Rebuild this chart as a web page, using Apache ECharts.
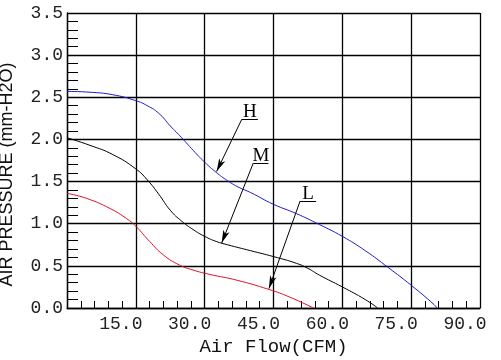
<!DOCTYPE html>
<html>
<head>
<meta charset="utf-8">
<script src="https://cdn.jsdelivr.net/npm/echarts@6/dist/echarts.min.js"></script>
<style>html,body{margin:0;padding:0;background:#fff;}#chart{width:501px;height:360px;}</style>
</head>
<body>
<div id="chart"></div>
<script>
// Air flow (CFM) and pressure (mm-H2O) readings for the three speeds
const flowH = [0, 5, 10, 15, 17.5, 20, 22.5, 25, 27.5, 30, 32.5, 35, 37.5, 40, 45, 50, 55, 60, 65, 70, 75, 80, 80.6];
const pressH = [2.57, 2.56, 2.53, 2.46, 2.40, 2.31, 2.16, 2.02, 1.87, 1.73, 1.61, 1.51, 1.43, 1.37, 1.23, 1.12, 0.99, 0.85, 0.68, 0.48, 0.27, 0.04, 0];

const flowM = [0, 5, 10, 15, 17.5, 20, 22.5, 25, 27.5, 30, 32.5, 35, 40, 45, 50, 52.5, 55, 60, 65, 67.7];
const pressM = [2.02, 1.93, 1.82, 1.65, 1.52, 1.35, 1.16, 1.03, 0.93, 0.85, 0.79, 0.75, 0.68, 0.61, 0.53, 0.47, 0.39, 0.25, 0.10, 0];

const flowL = [0, 4.3, 9.4, 13, 15, 18, 21, 24.5, 27.5, 31, 37, 44, 48.5, 53.7];
const pressL = [1.36, 1.30, 1.18, 1.06, 0.97, 0.79, 0.63, 0.51, 0.45, 0.40, 0.33, 0.22, 0.13, 0];

const seriesNames = ['H', 'M', 'L'];
const xTickValues = [15, 30, 45, 60, 75, 90];
const xTickLabels = ['15.0', '30.0', '45.0', '60.0', '75.0', '90.0'];
const yTickValues = [0, 0.5, 1, 1.5, 2, 2.5, 3, 3.5];
const yTickLabels = ['0.0', '0.5', '1.0', '1.5', '2.0', '2.5', '3.0', '3.5'];

// annotation anchors (data coords): label underline start/end and arrow tip
const annH = { from: [38.1, 2.24], to: [41.6, 2.24], tip: [32.6, 1.62] };
const annM = { from: [40.6, 1.72], to: [43.9, 1.72], tip: [33.7, 0.77] };
const annL = { from: [50.8, 1.27], to: [54.3, 1.27], tip: [44.0, 0.23] };

function zip(xs, ys) { return xs.map((x, i) => [x, ys[i]]); }
function lookup(vals, labels, v) {
  for (let i = 0; i < vals.length; i++) if (Math.abs(vals[i] - v) < 1e-6) return labels[i];
  return '';
}
function annotation(name, a) {
  return {
    markLine: {
      silent: true, animation: false,
      lineStyle: { color: '#000', width: 1, type: 'solid' },
      label: { show: false },
      emphasis: { disabled: true },
      data: [
        [{ coord: a.from, symbol: 'none' }, { coord: a.tip, symbol: 'arrow', symbolSize: [5, 13] }],
        [{ coord: a.from, symbol: 'none' }, { coord: a.to, symbol: 'none' }]
      ]
    },
    markPoint: {
      silent: true, animation: false,
      data: [{
        coord: [(a.from[0] + a.to[0]) / 2, a.from[1]],
        symbol: 'rect', symbolSize: 1,
        itemStyle: { color: 'rgba(0,0,0,0)' },
        label: { show: true, formatter: name, position: 'top', distance: -3,
          color: '#000', fontFamily: 'Liberation Serif', fontSize: 19 }
      }]
    }
  };
}

const chart = echarts.init(document.getElementById('chart'), null, { renderer: 'canvas' });
const lineBase = { type: 'line', smooth: 0.5, showSymbol: false, animation: false };
chart.setOption({
  backgroundColor: '#fff',
  animation: false,
  grid: { left: 67, right: 21, top: 13, bottom: 52, containLabel: false, outerBoundsMode: 'none' },
  xAxis: {
    type: 'value', min: 0, max: 90, interval: 15,
    name: 'Air Flow(CFM)', nameLocation: 'middle', nameGap: 29,
    nameTextStyle: { fontFamily: 'Liberation Mono', fontSize: 19, color: '#111' },
    axisLine: { show: true, lineStyle: { color: '#000', width: 1.3 } },
    axisTick: { show: true, inside: true, length: 7, lineStyle: { color: '#000', width: 1 } },
    minorTick: { show: true, splitNumber: 5, length: 7, lineStyle: { color: '#000', width: 1 } },
    splitLine: { show: true, lineStyle: { color: '#000', width: 1.3 } },
    axisLabel: {
      margin: 7, fontFamily: 'Liberation Mono', fontSize: 18, color: '#222',
      padding: [0, 30, 0, 0],
      formatter: v => lookup(xTickValues, xTickLabels, v)
    }
  },
  yAxis: {
    type: 'value', min: 0, max: 3.5, interval: 0.5,
    name: 'AIR PRESSURE (mm-H2O)', nameLocation: 'middle', nameGap: 51, nameRotate: 90,
    nameTextStyle: { fontFamily: 'Liberation Sans', fontSize: 18, color: '#111', padding: [0, 28, 0, 0] },
    axisLine: { show: true, lineStyle: { color: '#000', width: 1.3 } },
    axisTick: { show: true, inside: true, length: 11, lineStyle: { color: '#000', width: 1 } },
    minorTick: { show: true, splitNumber: 5, length: 11, lineStyle: { color: '#000', width: 1 } },
    splitLine: { show: true, lineStyle: { color: '#000', width: 1.3 } },
    axisLabel: {
      margin: 4, fontFamily: 'Liberation Mono', fontSize: 18, color: '#222',
      formatter: v => lookup(yTickValues, yTickLabels, v)
    }
  },
  series: [
    Object.assign({}, lineBase, { name: seriesNames[0], data: zip(flowH, pressH),
      lineStyle: { color: '#1c1cc8', width: 1 }, itemStyle: { color: '#1c1cc8' } }, annotation('H', annH)),
    Object.assign({}, lineBase, { name: seriesNames[1], data: zip(flowM, pressM),
      lineStyle: { color: '#000', width: 1 }, itemStyle: { color: '#000' } }, annotation('M', annM)),
    Object.assign({}, lineBase, { name: seriesNames[2], data: zip(flowL, pressL),
      lineStyle: { color: '#e0102a', width: 1 }, itemStyle: { color: '#e0102a' } }, annotation('L', annL))
  ]
});
</script>
</body>
</html>
